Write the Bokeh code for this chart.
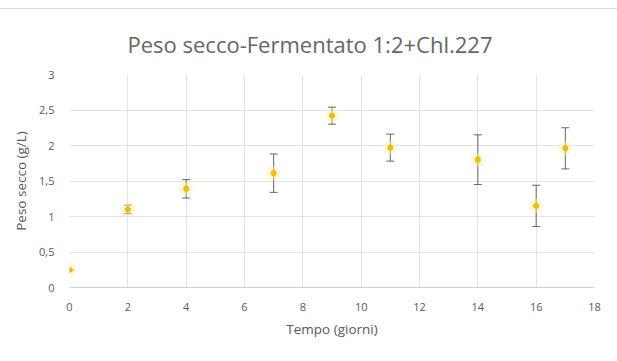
from bokeh.plotting import figure
from bokeh.models import Whisker, ColumnDataSource, FixedTicker, Title
from bokeh.embed import file_html
from bokeh.resources import INLINE

# Dry weight over fermentation time
giorni = [0, 2, 4, 7, 9, 11, 14, 16, 17]
peso_secco = [0.25, 1.10, 1.39, 1.61, 2.42, 1.97, 1.80, 1.15, 1.96]
errore = [0.0, 0.06, 0.13, 0.27, 0.12, 0.19, 0.35, 0.29, 0.29]

x_ticks = [0, 2, 4, 6, 8, 10, 12, 14, 16, 18]
y_ticks = [0, 0.5, 1, 1.5, 2, 2.5, 3]
y_tick_labels = ["0", "0,5", "1", "1,5", "2", "2,5", "3"]

FONT = "Open Sans"
GRAY = "#595959"
GRID = "#e3e3e3"

src = ColumnDataSource(dict(
    x=giorni,
    y=peso_secco,
    lo=[v - e for v, e in zip(peso_secco, errore)],
    hi=[v + e for v, e in zip(peso_secco, errore)],
))

TOP_GAP = 8
p = figure(width=617, height=361 - TOP_GAP - 1, x_range=(0, 18), y_range=(0, 3),
           output_backend="svg", toolbar_location=None,
           min_border_left=69, min_border_right=23,
           min_border_top=74 - TOP_GAP - 1, min_border_bottom=74)
p.styles = {"margin-top": f"{TOP_GAP}px", "border-top": "1px solid #dcdcdc"}

# title centred over the whole chart rather than the plot frame
p.title = Title(text="Peso secco-Fermentato 1:2+Chl.227", align="left",
                offset=58, text_font=FONT, text_font_size="22px",
                text_color="#666666", text_font_style="normal")
p.title.standoff = 31
p.outline_line_color = None
p.background_fill_color = "white"
p.border_fill_color = "white"

p.xgrid.ticker = FixedTicker(ticks=x_ticks)
p.ygrid.ticker = FixedTicker(ticks=y_ticks)
p.xgrid.grid_line_color = GRID
p.ygrid.grid_line_color = GRID

p.xaxis.ticker = FixedTicker(ticks=x_ticks)
p.yaxis.ticker = FixedTicker(ticks=y_ticks)
p.yaxis.major_label_overrides = {t: l for t, l in zip(y_ticks, y_tick_labels)}

for ax in (p.xaxis[0], p.yaxis[0]):
    ax.major_tick_line_color = None
    ax.minor_tick_line_color = None
    ax.major_label_text_font = FONT
    ax.major_label_text_font_size = "11px"
    ax.major_label_text_color = GRAY
    ax.axis_label_text_font = FONT
    ax.axis_label_text_font_size = "13.5px"
    ax.axis_label_text_color = GRAY
    ax.axis_label_text_font_style = "normal"
    ax.major_label_standoff = 9

p.xaxis.axis_line_color = "#d0d0d0"
p.yaxis.axis_line_color = None
p.xaxis.axis_label = "Tempo (giorni)"
p.yaxis.axis_label = "Peso secco (g/L)"
p.xaxis.axis_label_standoff = 6
p.yaxis.axis_label_standoff = 6

# error bars with caps
w = Whisker(source=src, base="x", lower="lo", upper="hi",
            line_color="#666666", line_width=1)
w.upper_head.size = 8
w.lower_head.size = 8
w.upper_head.line_color = "#666666"
w.lower_head.line_color = "#666666"
p.add_layout(w)

# soft halo and marker
p.scatter("x", "y", source=src, size=14, fill_color="#fff0a0",
          fill_alpha=0.45, line_color=None)
p.scatter("x", "y", source=src, size=5, fill_color="#f5c000",
          line_color="#e8b400", line_width=1)

open("out.html", "w").write(file_html(p, INLINE))
